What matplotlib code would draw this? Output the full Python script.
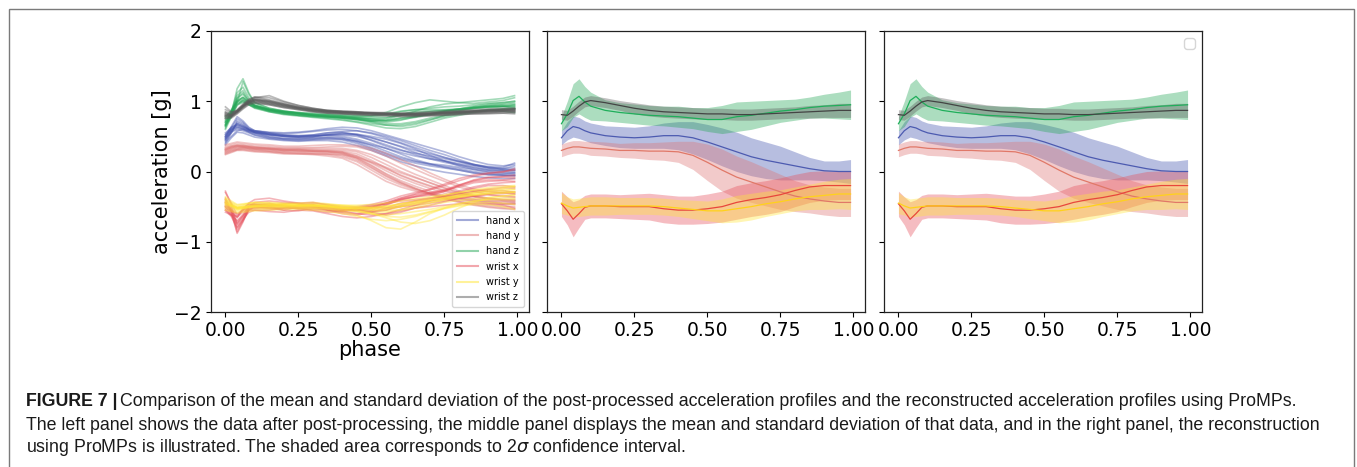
import numpy as np
import matplotlib
matplotlib.use("Agg")
import matplotlib.pyplot as plt
from matplotlib.patches import Rectangle
from matplotlib.text import Annotation

# ---------------------------------------------------------------- data
phase = [0.00, 0.02, 0.04, 0.06, 0.08, 0.10, 0.15, 0.20, 0.25, 0.30, 0.35, 0.40,
         0.45, 0.50, 0.55, 0.60, 0.65, 0.70, 0.75, 0.80, 0.85, 0.90, 0.95, 0.99]

series_names = ["hand x", "hand y", "hand z", "wrist x", "wrist y", "wrist z"]
series_colors = ["#4454b0", "#de7575", "#25a757", "#e6505c", "#ffe637", "#5c5c5c"]
mean_colors = ["#4c5ab0", "#e07868", "#1fae5a", "#e8463c", "#ffd21a", "#444444"]

# individual post-processed recordings, one row per trial
hand_x_trials = [
    [.45, .55, .70, .66, .60, .56, .52, .50, .49, .50, .52, .53, .52, .48, .42, .35, .27, .20, .15, .10, .05, .02, .01, .03],
    [.50, .62, .75, .70, .62, .58, .55, .54, .55, .57, .59, .60, .58, .54, .48, .41, .34, .27, .20, .14, .09, .06, .04, .08],
    [.42, .50, .58, .60, .56, .52, .47, .45, .44, .45, .46, .45, .40, .32, .24, .17, .12, .08, .05, .02, -.02, -.04, -.05, -.05],
    [.55, .62, .68, .64, .60, .58, .55, .52, .51, .52, .55, .57, .58, .55, .50, .44, .37, .30, .24, .17, .10, .05, .03, .02],
    [.47, .57, .62, .60, .57, .54, .50, .47, .46, .47, .49, .48, .44, .37, .29, .21, .15, .10, .07, .04, .00, -.03, -.05, -.06],
    [.52, .60, .66, .63, .59, .56, .53, .51, .50, .51, .52, .52, .50, .45, .38, .31, .24, .18, .13, .09, .06, .02, .00, -.01],
    [.40, .55, .72, .68, .60, .55, .49, .47, .47, .48, .48, .47, .42, .34, .26, .19, .14, .11, .09, .06, .03, .00, -.02, -.03],
    [.48, .60, .64, .61, .57, .55, .52, .50, .48, .49, .53, .55, .53, .48, .42, .36, .30, .25, .20, .15, .10, .06, .04, .05],
    [.44, .56, .60, .58, .55, .52, .48, .46, .45, .46, .47, .46, .43, .38, .33, .27, .22, .18, .15, .11, .08, .04, .02, .01],
    [.53, .63, .66, .63, .59, .57, .54, .52, .51, .51, .51, .50, .46, .40, .33, .25, .17, .11, .06, .02, -.02, -.05, -.06, -.06],
    [.50, .64, .78, .72, .63, .58, .56, .55, .56, .58, .61, .63, .62, .58, .52, .46, .40, .34, .28, .21, .15, .10, .08, .10],
    [.38, .48, .56, .55, .52, .49, .46, .44, .43, .44, .44, .42, .37, .30, .22, .14, .08, .03, -.01, -.04, -.07, -.09, -.10, -.10],
    [.46, .58, .68, .65, .60, .57, .53, .50, .49, .50, .52, .54, .53, .50, .46, .40, .32, .23, .15, .08, .03, -.01, -.03, -.02],
    [.49, .59, .63, .61, .58, .56, .53, .51, .50, .52, .55, .56, .52, .44, .36, .30, .26, .22, .18, .14, .10, .07, .06, .12],
]
hand_y_trials = [
    [.28, .31, .33, .34, .33, .32, .31, .29, .28, .28, .27, .25, .18, .06, -.06, -.16, -.24, -.31, -.37, -.42, -.46, -.48, -.50, -.50],
    [.33, .36, .38, .37, .36, .35, .34, .33, .33, .33, .33, .33, .30, .24, .15, .05, -.04, -.12, -.20, -.28, -.34, -.38, -.40, -.41],
    [.25, .28, .31, .31, .30, .29, .28, .26, .25, .24, .22, .19, .10, -.02, -.14, -.22, -.28, -.33, -.38, -.43, -.47, -.50, -.52, -.53],
    [.31, .35, .37, .36, .35, .34, .33, .32, .32, .31, .31, .31, .28, .20, .10, .00, -.08, -.16, -.24, -.31, -.36, -.40, -.42, -.43],
    [.36, .38, .40, .39, .38, .37, .36, .34, .34, .34, .35, .36, .35, .30, .22, .12, .03, -.06, -.14, -.22, -.28, -.33, -.36, -.37],
    [.27, .30, .32, .33, .32, .31, .29, .27, .27, .26, .25, .23, .16, .05, -.07, -.17, -.25, -.31, -.36, -.40, -.43, -.46, -.47, -.47],
    [.30, .33, .35, .35, .34, .33, .32, .30, .31, .30, .30, .29, .25, .16, .05, -.06, -.14, -.21, -.28, -.34, -.39, -.42, -.45, -.46],
    [.32, .34, .36, .36, .35, .34, .33, .31, .30, .29, .29, .28, .22, .12, .01, -.09, -.17, -.24, -.31, -.37, -.41, -.44, -.46, -.45],
    [.29, .32, .34, .34, .33, .32, .31, .29, .29, .28, .28, .27, .22, .14, .06, -.02, -.09, -.16, -.23, -.30, -.35, -.38, -.40, -.40],
    [.34, .36, .37, .37, .36, .35, .33, .31, .31, .30, .29, .27, .20, .09, -.03, -.13, -.21, -.28, -.34, -.39, -.42, -.44, -.46, -.46],
    [.26, .29, .31, .32, .31, .30, .29, .27, .26, .25, .24, .21, .14, .02, -.10, -.19, -.26, -.31, -.35, -.38, -.40, -.42, -.43, -.44],
    [.38, .40, .42, .41, .40, .39, .38, .36, .36, .37, .38, .38, .37, .33, .26, .17, .08, -.02, -.11, -.19, -.25, -.29, -.31, -.32],
    [.31, .34, .36, .35, .34, .33, .32, .31, .30, .29, .28, .26, .19, .08, -.04, -.15, -.24, -.32, -.39, -.44, -.48, -.51, -.53, -.54],
    [.24, .27, .30, .30, .29, .28, .27, .25, .25, .25, .25, .24, .20, .13, .04, -.05, -.13, -.20, -.27, -.32, -.36, -.39, -.41, -.42],
]
hand_z_trials = [
    [.65, .85, 1.12, 1.20, 1.05, .95, .88, .85, .83, .81, .80, .79, .77, .74, .72, .74, .77, .81, .85, .88, .91, .94, .96, .98],
    [.70, .80, .98, 1.28, 1.10, .98, .90, .86, .84, .83, .82, .81, .80, .80, .84, .92, .98, 1.02, 1.00, .98, .97, .99, 1.01, 1.05],
    [.72, .84, 1.02, 1.05, .97, .91, .85, .81, .79, .77, .75, .73, .70, .66, .62, .61, .64, .70, .76, .80, .84, .87, .89, .90],
    [.60, .78, 1.05, 1.12, 1.00, .93, .88, .85, .84, .82, .81, .80, .79, .78, .80, .85, .88, .90, .92, .93, .95, .97, .98, 1.00],
    [.75, .88, 1.00, 1.02, .96, .92, .86, .82, .80, .78, .77, .76, .74, .71, .68, .68, .71, .76, .80, .83, .86, .88, .89, .89],
    [.66, .80, .96, 1.00, .95, .91, .87, .84, .82, .80, .79, .77, .75, .72, .70, .73, .78, .82, .86, .89, .93, .96, .98, 1.00],
    [.68, .84, 1.08, 1.15, 1.02, .94, .88, .84, .82, .80, .78, .77, .76, .75, .76, .82, .85, .86, .87, .88, .90, .91, .92, .93],
    [.64, .78, .94, 1.02, .98, .94, .89, .86, .83, .81, .80, .78, .75, .72, .72, .76, .79, .81, .84, .87, .91, .93, .93, .92],
    [.72, .84, 1.00, 1.05, .99, .93, .86, .83, .81, .79, .78, .77, .76, .74, .73, .76, .78, .82, .86, .89, .92, .94, .95, .96],
    [.66, .79, .95, .98, .95, .92, .87, .84, .82, .80, .78, .76, .74, .70, .66, .64, .67, .73, .80, .86, .90, .92, .93, .90],
    [.62, .82, 1.18, 1.32, 1.12, .98, .90, .86, .83, .80, .78, .76, .74, .72, .74, .80, .86, .92, .96, .98, 1.00, 1.02, 1.04, 1.08],
    [.78, .86, .98, 1.00, .95, .90, .85, .82, .80, .79, .78, .78, .78, .79, .82, .86, .88, .88, .88, .89, .90, .92, .93, .94],
    [.70, .83, 1.04, 1.10, 1.00, .94, .88, .83, .80, .78, .76, .74, .71, .68, .66, .66, .69, .74, .78, .82, .85, .87, .86, .84],
    [.67, .81, .99, 1.06, .99, .93, .88, .85, .83, .81, .80, .79, .77, .76, .77, .80, .83, .85, .87, .89, .91, .92, .93, .95],
]
wrist_x_trials = [
    [-.30, -.45, -.62, -.55, -.45, -.40, -.38, -.42, -.45, -.44, -.48, -.52, -.50, -.47, -.42, -.35, -.30, -.25, -.18, -.10, -.05, -.02, .00, .02],
    [-.45, -.58, -.82, -.70, -.55, -.50, -.52, -.55, -.50, -.48, -.55, -.60, -.62, -.58, -.52, -.45, -.42, -.40, -.35, -.28, -.22, -.18, -.16, -.15],
    [-.52, -.62, -.75, -.65, -.55, -.52, -.50, -.48, -.52, -.55, -.58, -.57, -.55, -.58, -.62, -.58, -.52, -.48, -.43, -.38, -.35, -.32, -.30, -.29],
    [-.40, -.55, -.88, -.72, -.52, -.48, -.45, -.50, -.53, -.50, -.50, -.53, -.56, -.52, -.45, -.38, -.33, -.30, -.27, -.22, -.16, -.14, -.13, -.14],
    [-.55, -.62, -.70, -.62, -.55, -.55, -.55, -.52, -.48, -.52, -.56, -.55, -.52, -.50, -.52, -.50, -.48, -.45, -.42, -.38, -.35, -.33, -.34, -.36],
    [-.48, -.56, -.60, -.55, -.50, -.48, -.50, -.55, -.56, -.52, -.50, -.52, -.55, -.55, -.48, -.40, -.36, -.34, -.28, -.20, -.14, -.12, -.12, -.10],
    [-.42, -.55, -.72, -.62, -.48, -.46, -.48, -.46, -.45, -.50, -.55, -.56, -.54, -.50, -.45, -.42, -.40, -.38, -.35, -.30, -.24, -.20, -.20, -.22],
    [-.50, -.58, -.65, -.58, -.52, -.50, -.52, -.51, -.53, -.54, -.54, -.58, -.60, -.56, -.55, -.50, -.45, -.42, -.40, -.35, -.30, -.28, -.30, -.32],
    [-.38, -.52, -.66, -.52, -.46, -.48, -.47, -.48, -.50, -.48, -.52, -.55, -.52, -.48, -.46, -.40, -.36, -.32, -.28, -.20, -.12, -.08, -.07, -.05],
    [-.58, -.62, -.64, -.55, -.50, -.52, -.53, -.52, -.48, -.47, -.52, -.54, -.54, -.58, -.55, -.48, -.42, -.38, -.36, -.32, -.28, -.26, -.27, -.30],
    [-.28, -.48, -.78, -.68, -.50, -.44, -.42, -.44, -.46, -.45, -.47, -.50, -.52, -.50, -.45, -.38, -.32, -.26, -.20, -.13, -.07, -.03, -.01, .04],
    [-.55, -.64, -.80, -.68, -.58, -.55, -.57, -.58, -.55, -.56, -.60, -.64, -.66, -.64, -.60, -.56, -.52, -.50, -.48, -.46, -.45, -.46, -.48, -.52],
    [-.44, -.56, -.74, -.64, -.50, -.47, -.48, -.49, -.51, -.49, -.51, -.54, -.55, -.52, -.47, -.40, -.35, -.31, -.26, -.19, -.13, -.09, -.08, -.08],
    [-.50, -.60, -.86, -.70, -.54, -.50, -.50, -.52, -.52, -.51, -.53, -.57, -.60, -.62, -.60, -.54, -.48, -.42, -.37, -.32, -.28, -.25, -.23, -.24],
]
wrist_y_trials = [
    [-.40, -.45, -.50, -.48, -.45, -.44, -.45, -.46, -.45, -.44, -.46, -.48, -.50, -.52, -.50, -.46, -.42, -.38, -.34, -.30, -.26, -.23, -.21, -.20],
    [-.50, -.53, -.55, -.54, -.53, -.52, -.52, -.51, -.52, -.53, -.54, -.57, -.62, -.70, -.80, -.82, -.72, -.60, -.52, -.46, -.42, -.40, -.40, -.40],
    [-.45, -.48, -.52, -.52, -.51, -.50, -.49, -.49, -.48, -.48, -.49, -.51, -.53, -.55, -.56, -.54, -.50, -.45, -.40, -.36, -.32, -.29, -.27, -.26],
    [-.38, -.44, -.48, -.47, -.46, -.45, -.46, -.47, -.48, -.47, -.48, -.49, -.50, -.50, -.49, -.46, -.43, -.40, -.37, -.35, -.33, -.31, -.30, -.29],
    [-.52, -.55, -.57, -.56, -.55, -.54, -.53, -.52, -.52, -.52, -.53, -.55, -.57, -.60, -.62, -.60, -.57, -.54, -.50, -.46, -.42, -.40, -.38, -.38],
    [-.42, -.47, -.51, -.50, -.49, -.48, -.48, -.48, -.49, -.49, -.50, -.52, -.52, -.52, -.50, -.47, -.44, -.41, -.38, -.34, -.30, -.27, -.24, -.22],
    [-.48, -.51, -.54, -.53, -.51, -.50, -.50, -.50, -.50, -.51, -.52, -.54, -.57, -.60, -.64, -.65, -.62, -.57, -.52, -.48, -.45, -.44, -.45, -.47],
    [-.44, -.49, -.52, -.51, -.50, -.49, -.48, -.47, -.47, -.48, -.49, -.51, -.53, -.55, -.54, -.50, -.46, -.42, -.39, -.36, -.33, -.31, -.29, -.29],
    [-.47, -.50, -.53, -.52, -.51, -.50, -.50, -.50, -.50, -.50, -.51, -.53, -.55, -.58, -.58, -.55, -.52, -.48, -.44, -.41, -.39, -.37, -.35, -.34],
    [-.40, -.46, -.52, -.50, -.48, -.47, -.47, -.48, -.49, -.49, -.50, -.52, -.52, -.53, -.53, -.50, -.47, -.44, -.41, -.37, -.34, -.32, -.31, -.30],
    [-.36, -.42, -.47, -.46, -.45, -.44, -.44, -.45, -.46, -.46, -.47, -.48, -.48, -.47, -.45, -.42, -.39, -.36, -.33, -.30, -.27, -.25, -.23, -.21],
    [-.55, -.57, -.59, -.58, -.57, -.56, -.55, -.54, -.54, -.55, -.57, -.60, -.64, -.68, -.70, -.68, -.64, -.58, -.53, -.49, -.47, -.47, -.50, -.54],
    [-.46, -.49, -.53, -.52, -.51, -.50, -.50, -.49, -.49, -.49, -.50, -.52, -.55, -.60, -.66, -.72, -.74, -.70, -.62, -.52, -.44, -.38, -.35, -.33],
    [-.43, -.48, -.51, -.50, -.49, -.48, -.47, -.47, -.48, -.48, -.49, -.50, -.51, -.52, -.52, -.49, -.45, -.41, -.37, -.33, -.30, -.28, -.26, -.25],
]
wrist_z_trials = [
    [.78, .78, .84, .92, .98, 1.02, .99, .95, .91, .88, .86, .85, .84, .83, .82, .81, .81, .82, .83, .84, .85, .86, .87, .88],
    [.85, .82, .88, .96, 1.03, 1.06, 1.02, .97, .92, .89, .87, .86, .85, .84, .84, .83, .84, .85, .86, .87, .88, .89, .90, .90],
    [.76, .77, .83, .90, .96, .98, .95, .91, .88, .85, .83, .82, .81, .80, .79, .78, .78, .79, .80, .81, .82, .83, .83, .82],
    [.92, .85, .86, .93, 1.00, 1.05, 1.08, 1.00, .94, .90, .87, .85, .84, .83, .83, .82, .82, .83, .84, .85, .86, .87, .88, .88],
    [.80, .79, .85, .92, .98, 1.00, .97, .93, .89, .86, .84, .83, .82, .82, .81, .80, .80, .81, .82, .83, .84, .85, .86, .85],
    [.82, .81, .87, .94, 1.00, 1.02, .99, .94, .90, .87, .85, .84, .84, .83, .82, .81, .81, .82, .83, .84, .86, .87, .88, .89],
    [.79, .79, .85, .91, .97, .99, .96, .92, .89, .86, .84, .83, .82, .81, .81, .80, .80, .80, .81, .82, .83, .84, .85, .84],
    [.83, .80, .86, .93, .99, 1.01, .98, .94, .90, .87, .85, .84, .83, .82, .82, .82, .82, .83, .84, .85, .86, .87, .88, .87],
    [.77, .78, .85, .93, .98, 1.00, .97, .93, .90, .87, .85, .84, .83, .82, .81, .80, .80, .81, .82, .83, .84, .84, .85, .86],
    [.81, .80, .86, .94, 1.00, 1.03, 1.00, .95, .91, .88, .86, .85, .84, .83, .82, .82, .82, .83, .84, .85, .86, .87, .87, .86],
    [.88, .84, .87, .95, 1.02, 1.06, 1.05, .99, .94, .90, .87, .86, .85, .84, .83, .83, .83, .84, .85, .86, .87, .88, .89, .90],
    [.75, .76, .82, .89, .95, .97, .95, .91, .88, .85, .83, .82, .81, .80, .80, .79, .79, .80, .80, .81, .82, .82, .83, .84],
    [.80, .80, .86, .93, .99, 1.02, 1.00, .96, .92, .89, .86, .85, .84, .83, .82, .81, .81, .82, .83, .84, .85, .86, .86, .87],
    [.84, .81, .86, .94, 1.01, 1.04, 1.01, .96, .91, .88, .86, .84, .83, .83, .82, .82, .82, .82, .83, .84, .85, .86, .87, .89],
]

# mean profiles and 2-sigma half widths
hand_x_mean = [.48, .58, .64, .62, .58, .55, .51, .49, .48, .49, .51, .51, .48, .42, .35, .28, .21, .16, .12, .08, .04, .01, .00, .00]
hand_x_2sd = [.10, .13, .15, .15, .14, .14, .14, .15, .15, .16, .18, .20, .23, .25, .27, .28, .27, .26, .24, .20, .16, .14, .15, .17]
hand_y_mean = [.30, .33, .35, .35, .34, .33, .32, .30, .30, .29, .29, .28, .23, .13, .02, -.08, -.15, -.22, -.29, -.35, -.39, -.42, -.44, -.44]
hand_y_2sd = [.09, .09, .09, .09, .09, .10, .10, .10, .11, .12, .13, .15, .20, .26, .30, .30, .29, .27, .25, .22, .20, .20, .20, .20]
hand_z_mean = [.68, .82, 1.01, 1.07, .99, .93, .87, .84, .82, .80, .79, .78, .76, .74, .74, .78, .80, .83, .86, .88, .91, .93, .94, .95]
hand_z_2sd = [.10, .18, .24, .25, .22, .20, .15, .14, .14, .14, .14, .15, .15, .17, .20, .21, .20, .18, .16, .15, .15, .17, .19, .21]
wrist_x_mean = [-.46, -.56, -.68, -.60, -.51, -.49, -.49, -.50, -.50, -.50, -.53, -.55, -.55, -.53, -.50, -.44, -.40, -.37, -.33, -.27, -.22, -.20, -.20, -.20]
wrist_x_2sd = [.18, .20, .25, .20, .17, .17, .17, .17, .18, .19, .20, .20, .20, .21, .22, .24, .24, .24, .24, .23, .22, .21, .20, .20]
wrist_y_mean = [-.45, -.49, -.52, -.51, -.50, -.49, -.49, -.49, -.49, -.49, -.50, -.52, -.54, -.56, -.56, -.53, -.50, -.46, -.43, -.39, -.36, -.34, -.32, -.32]
wrist_y_2sd = [.15, .13, .13, .13, .13, .13, .13, .12, .12, .12, .12, .12, .13, .14, .17, .19, .19, .18, .17, .17, .18, .20, .21, .22]
wrist_z_mean = [.81, .80, .86, .93, .99, 1.01, .98, .94, .90, .87, .85, .84, .83, .82, .82, .81, .81, .82, .83, .84, .85, .86, .87, .87]
wrist_z_2sd = [.07, .07, .07, .07, .07, .07, .07, .07, .08, .08, .08, .08, .08, .08, .08, .08, .08, .08, .08, .08, .09, .09, .10, .10]

all_trials = [hand_x_trials, hand_y_trials, hand_z_trials,
              wrist_x_trials, wrist_y_trials, wrist_z_trials]
all_means = [hand_x_mean, hand_y_mean, hand_z_mean,
             wrist_x_mean, wrist_y_mean, wrist_z_mean]
all_2sd = [hand_x_2sd, hand_y_2sd, hand_z_2sd,
           wrist_x_2sd, wrist_y_2sd, wrist_z_2sd]

x_ticks = [0.00, 0.25, 0.50, 0.75, 1.00]
y_ticks = [-2, -1, 0, 1, 2]

caption_head = "FIGURE 7 |"
caption_lines = [
    "Comparison of the mean and standard deviation of the post-processed acceleration profiles and the reconstructed acceleration profiles using ProMPs.",
    "The left panel shows the data after post-processing, the middle panel displays the mean and standard deviation of that data, and in the right panel, the reconstruction",
    "using ProMPs is illustrated. The shaded area corresponds to 2$\\sigma$ confidence interval.",
]

# ---------------------------------------------------------------- figure
W, H = 1357, 467
fig = plt.figure(figsize=(W / 100, H / 100), dpi=100)

# frame around figure and caption
fig.add_artist(Rectangle((9 / W, -0.1), (1354 - 9) / W, 1.1 - 9 / H,
                         transform=fig.transFigure, fill=False,
                         edgecolor="#7a7a7a", linewidth=1.0))

ax_w = (529 - 211) / W
ax_h = (312 - 31) / H
ax_b = 1 - 312 / H
lefts = [211 / W, 547 / W, 884 / W]
axes = [fig.add_axes([l, ax_b, ax_w, ax_h]) for l in lefts]

ph = np.array(phase)
for ax in axes:
    ax.set_xlim(-0.0495, 1.0395)
    ax.set_ylim(-2, 2)
    ax.set_xticks(x_ticks)
    ax.set_xticklabels([f"{t:.2f}" for t in x_ticks])
    ax.set_yticks(y_ticks)
    ax.tick_params(labelsize=13.5, pad=3)
    for sp in ax.spines.values():
        sp.set_color("#222222")
        sp.set_linewidth(0.9)

# left: all recordings
ax0 = axes[0]
for name, col, trials in zip(series_names, series_colors, all_trials):
    for k, tr in enumerate(trials):
        ax0.plot(ph, tr, color=col, alpha=0.42, lw=1.2,
                 label=name if k == 0 else None)
ax0.set_ylabel("acceleration [g]", fontsize=15, labelpad=2)
ax0.set_xlabel("phase", fontsize=15, labelpad=0)
leg = ax0.legend(loc="lower right", fontsize=7, handlelength=2.2,
                 borderpad=0.5, labelspacing=0.55)
for lh in leg.get_lines():
    lh.set_alpha(0.5)
    lh.set_linewidth(1.5)

# middle and right: mean with 2-sigma band
for ax in axes[1:]:
    for col, mcol, m, s in zip(series_colors, mean_colors, all_means, all_2sd):
        m = np.array(m)
        s = np.array(s)
        ax.fill_between(ph, m - s, m + s, color=col, alpha=0.38, lw=0)
        ax.plot(ph, m, color=mcol, lw=0.9)
    ax.tick_params(labelleft=False)

axes[2].legend(handles=[], loc="upper right")

# caption: size chosen so that the longest line spans the frame
cap_font = "Liberation Sans"
cap_color = "#1a1a1a"
x_cap = 26 / W
probe = fig.text(0, 0, caption_lines[1], fontsize=12, family=cap_font)
renderer = fig.canvas.get_renderer()
probe_w = probe.get_window_extent(renderer).width
probe.remove()
cap_fs = 12 * (1322 - 26) / probe_w

t_head = fig.text(x_cap, 1 - 402 / H, caption_head, fontsize=cap_fs,
                  weight="bold", family=cap_font, va="center", color=cap_color)
fig.add_artist(Annotation(caption_lines[0], xy=(1, 0.5), xycoords=t_head,
                          xytext=(2, 0), textcoords="offset points",
                          va="center", fontsize=cap_fs, family=cap_font,
                          color=cap_color))
for i, line in enumerate(caption_lines[1:]):
    fig.text(x_cap, 1 - (425 + 23 * i) / H, line, fontsize=cap_fs,
             family=cap_font, va="center", color=cap_color)

fig.savefig("out.png", dpi=100)
